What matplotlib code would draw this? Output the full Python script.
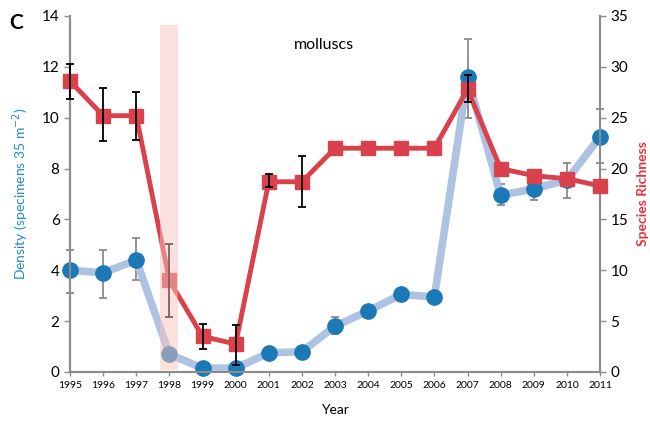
import matplotlib.pyplot as plt
import numpy as np

plt.rcParams['font.family'] = ['Lato', 'DejaVu Sans']

years = np.arange(1995, 2012)

# Density (left axis)
density = [4.0, 3.9, 4.4, 0.7, 0.15, 0.15, 0.75, 0.8, 1.8, 2.4, 3.05, 2.95, 11.6, 6.95, 7.2, 7.55, 9.25]
density_lo = [3.1, 2.9, 3.6, 0.55, 0.15, 0.15, 0.75, 0.8, 1.5, 2.4, 3.05, 2.95, 10.0, 6.55, 6.75, 6.85, 8.2]
density_hi = [4.8, 4.8, 5.25, 0.85, 0.15, 0.15, 0.75, 0.8, 2.15, 2.4, 3.05, 2.95, 13.1, 7.4, 7.7, 8.2, 10.35]

# Species richness (right axis)
richness = [28.6, 25.2, 25.2, 9.0, 3.5, 2.75, 18.7, 18.7, 22.0, 22.0, 22.0, 22.0, 27.8, 20.0, 19.3, 19.0, 18.3]
richness_lo = [26.8, 22.7, 22.8, 5.4, 2.3, 0.7, 18.2, 16.2, 22.0, 22.0, 22.0, 22.0, 26.5, 20.0, 19.3, 19.0, 18.3]
richness_hi = [30.3, 27.9, 27.5, 12.6, 4.7, 4.6, 19.5, 21.2, 22.0, 22.0, 22.0, 22.0, 29.2, 20.0, 19.3, 19.0, 18.3]

d = np.array(density)
r = np.array(richness)
d_lo, d_hi = np.array(density_lo), np.array(density_hi)
r_lo, r_hi = np.array(richness_lo), np.array(richness_hi)

fig = plt.figure(figsize=(6.5, 4.23), dpi=100)
ax = fig.add_axes([0.1077, 0.1206, 0.8154, 0.8416])
ax2 = ax.twinx()

grey = '#8c8c8c'


def err_bars(a, x, y, lo, hi, color, z):
    # only the points that actually have an error range
    m = (hi - lo) > 0
    eb = a.errorbar(x[m], y[m], yerr=[y[m] - lo[m], hi[m] - y[m]], fmt='none',
                    ecolor=color, elinewidth=1.3, capsize=3, capthick=1.3, zorder=z)
    for art in eb.lines[1] + eb.lines[2]:
        art.set_clip_on(False)


# density series
err_bars(ax, years, d, d_lo, d_hi, '#8a8a8a', 2)
ax.plot(years, d, color='#adc3e1', lw=5.5, zorder=3, clip_on=False)
ax.plot(years, d, 'o', color='#1a79b6', ms=11, zorder=4, clip_on=False)

# richness series
ax2.plot(years, r, color='#d9414c', lw=3.5, zorder=3, clip_on=False)
ax2.plot(years, r, 's', color='#d9414c', ms=10.5, zorder=4, clip_on=False)
err_bars(ax2, years, r, r_lo, r_hi, 'black', 5)

# 1998 shading
ax2.axvspan(1997.72, 1998.26, ymin=0.005, ymax=0.975, color='#f6c4bf', alpha=0.5,
            lw=0, zorder=6)

ax.set_xlim(1995, 2011)
ax.set_ylim(0, 14)
ax2.set_ylim(0, 35)
ax.set_xticks(years)
ax.set_yticks(range(0, 15, 2))
ax2.set_yticks(range(0, 36, 5))

for a in (ax, ax2):
    a.spines['top'].set_visible(False)
    for s in ('left', 'right', 'bottom'):
        a.spines[s].set_color(grey)
        a.spines[s].set_linewidth(1.5)
    a.tick_params(axis='y', colors=grey, labelcolor='black', labelsize=11, length=4, width=1)
ax.tick_params(axis='x', colors=grey, labelcolor='black', labelsize=7.5, length=3, width=1)
ax.set_zorder(ax2.get_zorder() - 1)
ax2.patch.set_visible(False)

ax.set_xlabel('Year', fontsize=10, labelpad=10)
ax.set_ylabel('Density (specimens 35 m$^{-2}$)', color='#1e8bd0', fontsize=10, labelpad=8)
ax2.set_ylabel('Species Richness', color='#e8303a', fontsize=10, fontweight='bold', labelpad=6)

ax.text(0.48, 0.918, 'molluscs', transform=ax.transAxes, fontsize=11.5, ha='center', va='center')
fig.text(0.015, 0.945, 'C', fontsize=15, fontweight='bold', ha='left', va='center')

fig.savefig('out.png', dpi=100)
